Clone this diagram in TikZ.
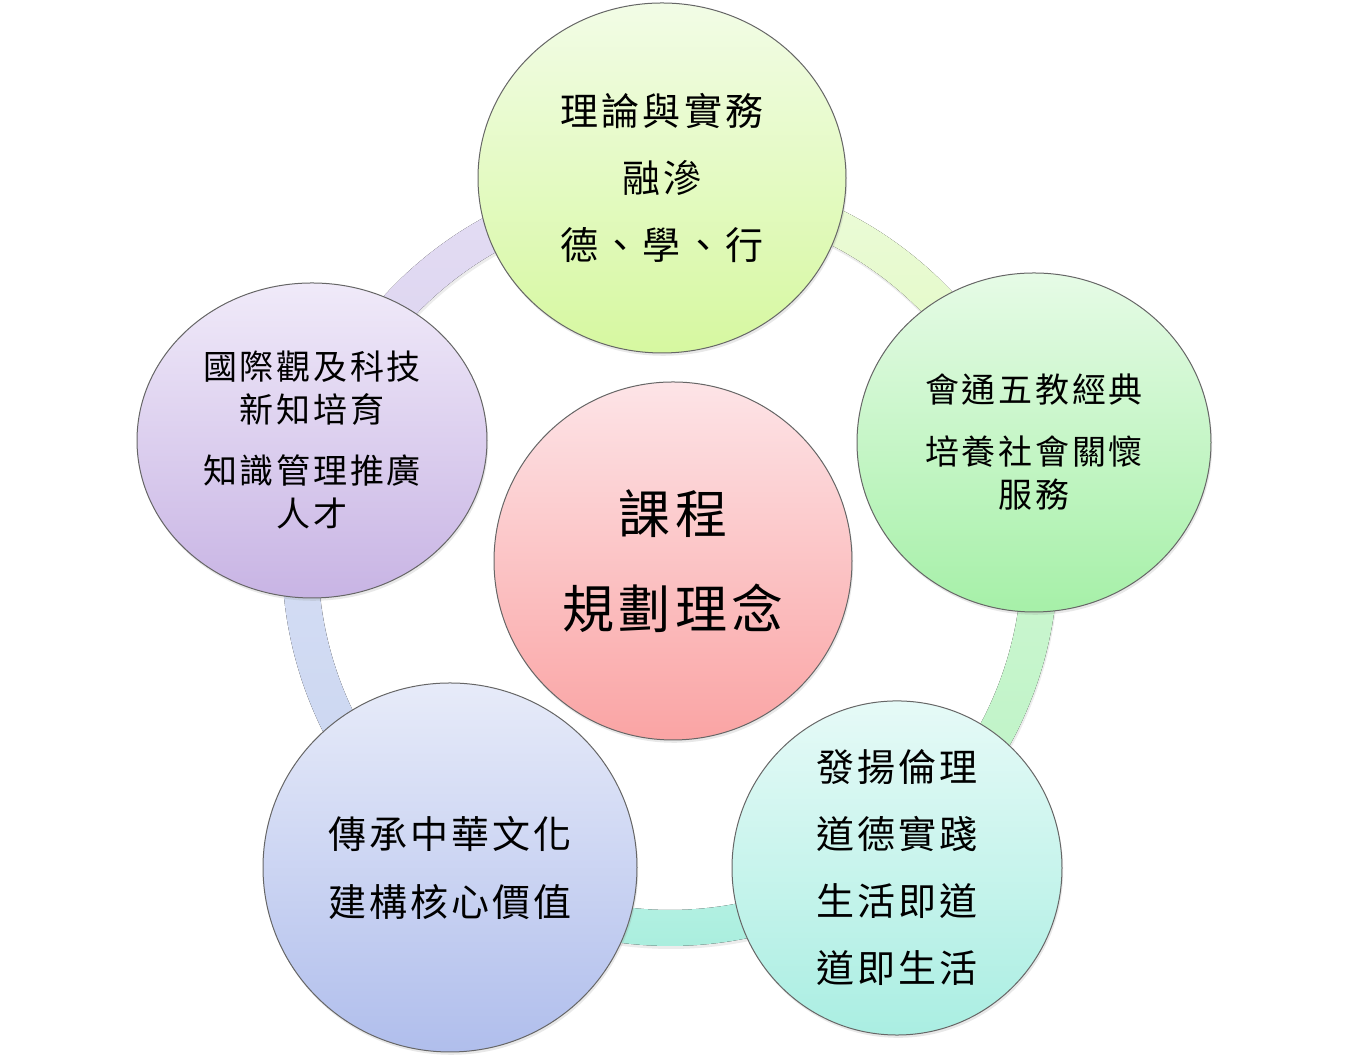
\documentclass[tikz,border=0pt]{standalone}
\usepackage{fontspec}
\newfontfamily\cjk[LetterSpace=8]{Noto Sans CJK TC}
\usetikzlibrary{shapes.geometric,shadows}
\definecolor{topA}{RGB}{242,252,230}
\definecolor{topB}{RGB}{214,248,160}
\definecolor{rightA}{RGB}{230,251,230}
\definecolor{rightB}{RGB}{166,240,168}
\definecolor{brA}{RGB}{230,250,247}
\definecolor{brB}{RGB}{170,238,226}
\definecolor{blA}{RGB}{231,235,249}
\definecolor{blB}{RGB}{176,190,236}
\definecolor{leftA}{RGB}{240,234,249}
\definecolor{leftB}{RGB}{200,180,228}
\definecolor{coreA}{RGB}{253,228,231}
\definecolor{coreB}{RGB}{250,164,164}
\definecolor{rTLa}{RGB}{228,222,244}
\definecolor{rTLb}{RGB}{218,208,238}
\definecolor{rTRa}{RGB}{236,251,218}
\definecolor{rTRb}{RGB}{224,249,190}
\definecolor{rRa}{RGB}{210,248,212}
\definecolor{rRb}{RGB}{186,242,196}
\definecolor{rBa}{RGB}{190,244,232}
\definecolor{rBb}{RGB}{170,238,222}
\definecolor{rLa}{RGB}{216,224,245}
\definecolor{rLb}{RGB}{200,212,240}
\newcommand{\RingSeg}[4]{%
  \fill[top color=#3,bottom color=#4,ringshadow]
    plot[domain=#1:#2,samples=60] ({670+388*cos(\x)},{505+388*sin(\x)})
    -- plot[domain=#2:#1,samples=60] ({670+352*cos(\x)},{505+352*sin(\x)}) -- cycle;}
\begin{document}
\begin{tikzpicture}[x=0.5pt,y=0.5pt,
  bubble/.style={ellipse, draw=black!60, line width=0.5pt, inner sep=0pt,
    align=center, text=black,
    drop shadow={opacity=0.18, shadow xshift=0.6pt, shadow yshift=-1.4pt}},
  ringshadow/.style={drop shadow={opacity=0.15, shadow xshift=0.5pt, shadow yshift=-1.5pt}},
  bigtxt/.style={font=\cjk\fontsize{19}{33.5}\selectfont},
  smalltxt/.style={font=\cjk\fontsize{17}{21.5}\selectfont},
  coretxt/.style={font=\cjk\fontsize{26}{47.5}\selectfont}]
\fill[white] (0,0) rectangle (1346,1063);
\useasboundingbox (0,0) rectangle (1346,1063);
\coordinate (ringc) at (670,505);
% ring segments
\RingSeg{90}{162}{rTLa}{rTLb}
\RingSeg{18}{90}{rTRa}{rTRb}
\RingSeg{-54}{18}{rRa}{rRb}
\RingSeg{-126}{-54}{rBa}{rBb}
\RingSeg{162}{234}{rLa}{rLb}
% circles
\node[bubble, bigtxt, minimum width=184pt, minimum height=175pt, top color=topA, bottom color=topB]
  (top) at (662,885) {理論與實務\\融滲\\德、學、行};
\node[bubble, smalltxt, minimum width=177pt, minimum height=169.5pt, top color=rightA, bottom color=rightB]
  (right) at (1034,620.5) {會通五教經典\\[9.5pt]培養社會關懷\\服務};
\node[bubble, bigtxt, minimum width=165pt, minimum height=162pt, top color=brA, bottom color=brB]
  (bright) at (897,195) {發揚倫理\\道德實踐\\生活即道\\道即生活};
\node[bubble, bigtxt, font=\cjk\fontsize{19}{34}\selectfont, minimum width=187pt, minimum height=184.5pt, top color=blA, bottom color=blB]
  (bleft) at (450,195.5) {傳承中華文化\\建構核心價值};
\node[bubble, smalltxt, minimum width=175pt, minimum height=157.5pt, top color=leftA, bottom color=leftB]
  (left) at (312,622.5) {國際觀及科技\\新知培育\\[9pt]知識管理推廣\\人才};
\node[bubble, coretxt, minimum width=179pt, minimum height=179pt, top color=coreA, bottom color=coreB]
  (core) at (673,502) {課程\\規劃理念};
\end{tikzpicture}
\end{document}
